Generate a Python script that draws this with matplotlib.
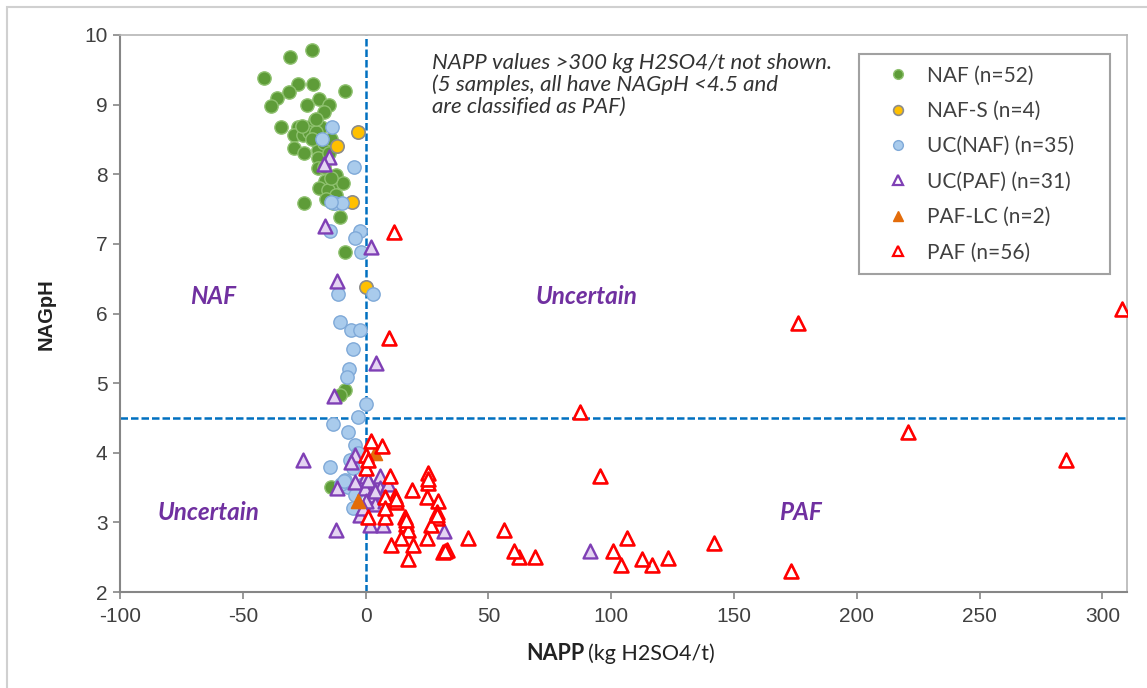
import matplotlib.pyplot as plt
from matplotlib.lines import Line2D
from matplotlib.patches import Rectangle

plt.rcParams["axes.unicode_minus"] = False

# NAPP (kg H2SO4/t) vs NAGpH, one pair of lists per class
naf_x = [-21.8, -30.8, -41.2, -27.6, -21.5, -31, -8.5, -36.1, -38.5, -18.8, -15, -17, -20.8,
         -34.4, -27.6, -22.9, -18.1, -29, -25.6, -21.5, -18.8, -29, -24.9, -19.4, -19.4, -19.4,
         -12, -16.7, -13.3, -9.2, -18.8, -15.4, -25.2, -13.3, -10.6, -8.5, -8.5, -10.6, -14,
         -23, -26, -20, -17, -15, -14, -17, -12, -14, -20, -22, -24, -16]
naf_y = [9.79, 9.68, 9.38, 9.30, 9.30, 9.18, 9.19, 9.09, 8.98, 9.08, 9.0, 8.89, 8.78,
         8.68, 8.68, 8.68, 8.68, 8.57, 8.57, 8.57, 8.49, 8.37, 8.30, 8.35, 8.23, 8.09,
         7.99, 7.90, 7.87, 7.87, 7.80, 7.78, 7.58, 7.58, 7.39, 6.89, 4.9, 4.83, 3.51,
         8.6, 8.7, 8.6, 8.45, 8.3, 8.5, 8.1, 7.7, 7.95, 8.8, 8.5, 9.0, 7.65]

nafs_x = [-3, -11.5, -5.5, 0]
nafs_y = [8.6, 8.4, 7.6, 6.38]

ucnaf_x = [-13.6, -17.8, -4.7, -12.6, -9.6, -14.7, -2.4, -4.2, -1.8, -11.3, 3, -10.6, -5.8,
           -2.4, -5.1, -6.9, -7.6, 0.3, -3.1, -13.3, -7.2, -4.5, -3.8, -6.5, -14.7, -8.5,
           -7.2, -10, -4.5, -5.1, -14, -3, -9, -5, -1]
ucnaf_y = [8.68, 8.5, 8.1, 7.58, 7.58, 7.18, 7.18, 7.08, 6.89, 6.28, 6.28, 5.88, 5.77,
           5.77, 5.49, 5.21, 5.09, 4.70, 4.52, 4.41, 4.30, 4.11, 3.94, 3.90, 3.80, 3.61,
           3.51, 3.55, 3.39, 3.78, 7.6, 4.0, 3.6, 3.2, 3.55]

ucpaf_x = [-16.7, 2.3, -11.6, 4.1, -12.9, -14.9, -17, -25.6, -4.5, -5.8, 5.8, 0.3, -4.5,
           -11.5, -0.4, 5.8, 2.3, 6.5, -2.4, 1.7, 7.1, -12, 3.7, 0.3, 32, 91.3, 1, 9, 4, -1, 8]
ucpaf_y = [7.25, 6.96, 6.47, 5.29, 4.81, 8.25, 8.15, 3.9, 3.97, 3.87, 3.67, 3.66, 3.58,
           3.49, 3.49, 3.49, 3.39, 3.37, 3.11, 2.96, 2.96, 2.89, 3.27, 3.30, 2.88, 2.59,
           3.61, 3.55, 3.45, 3.2, 3.3]

paflc_x = [4, -3]
paflc_y = [4.0, 3.3]

paf_x = [308, 176, 221, 285, 173, 142, 123, 116.5, 112.5, 106.4, 104, 100.7, 95.4, 87.1,
         68.8, 62.3, 60.6, 56.2, 41.8, 11.6, 9.6,
         2, 6.7, 0.3, 0.3, 9.8, 25.5, 25.5, 18.7, 24.8, 11.9, 12.5, 7.8, 29.6, 28.9, 28.9,
         16, 16.6, 7.8, 1, 26.8, 17.3, 14.6, 10.5, 19.4, 24.8, 31.6, 33, 17.3,
         12.2, 16.3, 25.5, 29.2, 32.3, 8, 1]
paf_y = [6.07, 5.87, 4.3, 3.9, 2.3, 2.7, 2.49, 2.39, 2.47, 2.78, 2.39, 2.59, 3.67, 4.59,
         2.5, 2.5, 2.59, 2.89, 2.78, 7.17, 5.65,
         4.17, 4.09, 3.97, 3.78, 3.67, 3.71, 3.56, 3.47, 3.37, 3.38, 3.29, 3.37, 3.30, 3.15, 3.06,
         3.08, 2.98, 3.08, 3.08, 2.96, 2.89, 2.77, 2.68, 2.68, 2.77, 2.58, 2.6, 2.48,
         3.33, 3.03, 3.63, 3.1, 2.59, 3.2, 3.9]

labels = ["NAF (n=52)", "NAF-S (n=4)", "UC(NAF) (n=35)", "UC(PAF) (n=31)",
          "PAF-LC (n=2)", "PAF (n=56)"]

purple = "#7030A0"
txt_font = "Lato"

fig = plt.figure(figsize=(11.47, 6.88), dpi=100)
W, H = 1147, 688
# light outer frame
fig.patches.append(Rectangle((7 / W, -0.1), 1.2, 1 - 7 / H + 0.1, transform=fig.transFigure,
                             fill=False, edgecolor="#d0d0d0", linewidth=1.5))
ax = fig.add_axes([120 / W, 1 - 592 / H, (1127 - 120) / W, (592 - 35) / H])

ax.axvline(0, color="#0070C0", lw=1.8, ls=(0, (3, 1.2)), zorder=1)
ax.axhline(4.5, color="#0070C0", lw=1.8, ls=(0, (3, 1.2)), zorder=1)

ms_c = 92
ms_t = 100
ax.scatter(naf_x, naf_y, s=ms_c, marker="o", facecolor="#5E9C38", edgecolor="#8FC16F", lw=1, zorder=3)
ax.scatter(nafs_x, nafs_y, s=ms_c, marker="o", facecolor="#FFC000", edgecolor="#8C8C8C", lw=1.2, zorder=3)
ax.scatter(ucnaf_x, ucnaf_y, s=ms_c, marker="o", facecolor="#A9CBEC", edgecolor="#7FA9D8", lw=1, zorder=3)
ax.scatter(ucpaf_x, ucpaf_y, s=ms_t, marker="^", facecolor="#E4D4F2", edgecolor="#7F3FB5", lw=1.7, zorder=4)
ax.scatter(paflc_x, paflc_y, s=ms_t, marker="^", facecolor="#E36C0A", edgecolor="#E36C0A", lw=1.2, zorder=4)
ax.scatter(paf_x, paf_y, s=ms_t, marker="^", facecolor="white", edgecolor="#FF0000", lw=1.9, zorder=4)

ax.set_xlim(-100, 310)
ax.set_ylim(2, 10)
ax.set_xticks(range(-100, 301, 50))
ax.set_yticks(range(2, 11))
for side in ["left", "bottom"]:
    ax.spines[side].set_color("#868686")
    ax.spines[side].set_linewidth(1.5)
for side in ["top", "right"]:
    ax.spines[side].set_color("#b5b5b5")
    ax.spines[side].set_linewidth(1.2)
ax.tick_params(axis="both", direction="out", length=5, width=1.2, color="#868686",
               labelsize=15, labelcolor="#404040")
ax.tick_params(axis="x", pad=6)
ax.tick_params(axis="y", pad=4)
for lab in ax.get_xticklabels() + ax.get_yticklabels():
    lab.set_family("Liberation Sans")

# axis titles
fig.text(46 / W, 1 - 314 / H, "NAGpH", rotation=90, ha="center", va="center",
         fontsize=14.5, fontweight="bold", family="Liberation Sans", color="#222222")
fig.text(584 / W, 1 - 654 / H, "NAPP", ha="right", va="center", fontsize=15.5,
         fontweight="bold", family=txt_font, color="#222222")
fig.text(588 / W, 1 - 654 / H, "(kg H2SO4/t)", ha="left", va="center", fontsize=15.5,
         family=txt_font, color="#222222")

# zone labels
zone = dict(color=purple, fontsize=17.5, fontweight="bold", style="italic",
            family=txt_font, ha="center", va="center")
ax.text(-62, 6.25, "NAF", **zone)
ax.text(90, 6.25, "Uncertain", **zone)
ax.text(-64, 3.14, "Uncertain", **zone)
ax.text(177, 3.14, "PAF", **zone)

ax.text(27, 9.74, "NAPP values >300 kg H2SO4/t not shown.\n(5 samples, all have NAGpH <4.5 and\nare classified as PAF)",
        ha="left", va="top", fontsize=16, style="italic", family=txt_font,
        color="#333333", linespacing=1.1)

handles = [
    Line2D([], [], ls="", marker="o", ms=7, mfc="#5E9C38", mec="#8FC16F"),
    Line2D([], [], ls="", marker="o", ms=7, mfc="#FFC000", mec="#8C8C8C", mew=1.2),
    Line2D([], [], ls="", marker="o", ms=7, mfc="#A9CBEC", mec="#7FA9D8"),
    Line2D([], [], ls="", marker="^", ms=7, mfc="white", mec="#7F3FB5", mew=1.6),
    Line2D([], [], ls="", marker="^", ms=7, mfc="#E36C0A", mec="#E36C0A"),
    Line2D([], [], ls="", marker="^", ms=7, mfc="white", mec="#FF0000", mew=1.6),
]
leg = ax.legend(handles, labels, loc="upper left",
                bbox_to_anchor=(859 / W, 1 - 267 / H, 251 / W, 213 / H),
                bbox_transform=fig.transFigure, mode="expand", frameon=True, fancybox=False,
                prop={"family": txt_font, "size": 15}, labelspacing=0.74,
                handletextpad=0.1, handlelength=2.6, borderpad=0.55, borderaxespad=0)
leg.get_frame().set_edgecolor("#8a8a8a")
leg.get_frame().set_linewidth(1.5)
for t in leg.get_texts():
    t.set_color("#404040")

fig.savefig("out.png", dpi=100)
